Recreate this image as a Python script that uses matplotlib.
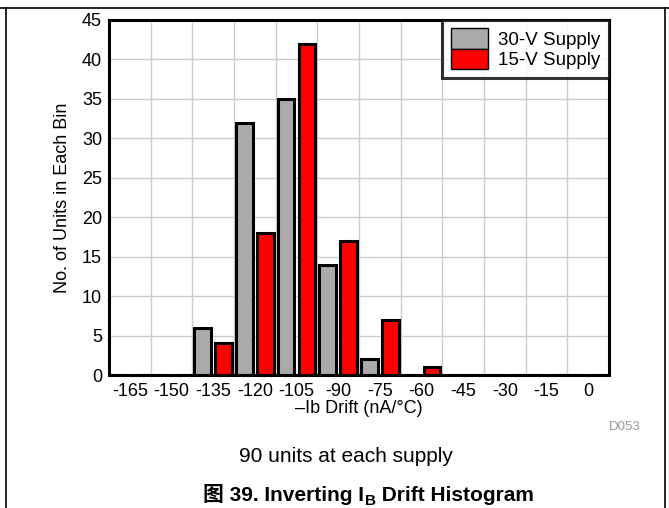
import matplotlib
matplotlib.use("Agg")
import matplotlib.pyplot as plt
import numpy as np
from matplotlib.lines import Line2D

plt.rcParams['font.family'] = ['Liberation Sans', 'Noto Sans CJK SC', 'DejaVu Sans']

categories = ['-165', '-150', '-135', '-120', '-105', '-90', '-75', '-60', '-45', '-30', '-15', '0']
supply_30v = [0, 0, 6, 32, 35, 14, 2, 0, 0, 0, 0, 0]
supply_15v = [0, 0, 4, 18, 42, 17, 7, 1, 0, 0, 0, 0]
series_names = ['30-V Supply', '15-V Supply']

W, H = 669, 508
fig = plt.figure(figsize=(W / 100, H / 100), dpi=100)
L, R, T, B = 109, 609, 20, 375
ax = fig.add_axes([L / W, 1 - B / H, (R - L) / W, (B - T) / H])

x = np.arange(len(categories))
w = 0.4
ax.bar(x - 0.25, supply_30v, width=w, color='#aaaaaa', edgecolor='black', linewidth=2.2,
       label=series_names[0], zorder=3)
ax.bar(x + 0.25, supply_15v, width=w, color='#ff0000', edgecolor='black', linewidth=2.2,
       label=series_names[1], zorder=3)

ax.set_xlim(-0.5, len(categories) - 0.5)
ax.set_ylim(0, 45)
ax.set_yticks(np.arange(0, 46, 5))
ax.set_xticks(x)
ax.set_xticklabels(categories)
ax.set_xticks(np.arange(-0.5, len(categories), 1), minor=True)
ax.grid(False)
ax.grid(True, which='minor', axis='x', color='#cccccc', linewidth=1, zorder=0)
ax.grid(True, which='major', axis='y', color='#cccccc', linewidth=1, zorder=0)
ax.tick_params(axis='both', which='both', length=0, labelsize=13)
ax.tick_params(axis='x', pad=6)
ax.tick_params(axis='y', pad=5)
for s in ax.spines.values():
    s.set_linewidth(2.2)
    s.set_zorder(5)

ax.set_ylabel('No. of Units in Each Bin', fontsize=13, labelpad=8)
ax.set_xlabel('\u2013Ib Drift (nA/\u00b0C)', fontsize=13, labelpad=0)

# legend with thin-edged patch handles
from matplotlib.patches import Patch
handles = [Patch(facecolor='#aaaaaa', edgecolor='black', linewidth=1.0),
           Patch(facecolor='#ff0000', edgecolor='black', linewidth=1.0)]
leg = ax.legend(handles, series_names, loc='upper right', bbox_to_anchor=(1.0, 1.0),
                fontsize=13.5, frameon=True, fancybox=False, borderaxespad=0,
                handlelength=2.0, handleheight=1.3, labelspacing=0.0,
                handletextpad=0.55, borderpad=0.45)
leg.get_frame().set_edgecolor('black')
leg.get_frame().set_linewidth(2.2)
leg.set_zorder(10)

fig.text(625 / W, 1 - 427 / H, 'D053', fontsize=9.5, color='#999999', ha='center', va='center')
fig.text(346 / W, 1 - 457 / H, '90 units at each supply', fontsize=15, ha='center', va='center')

title_font = dict(fontsize=15, fontweight='bold',
                  family=['Liberation Sans', 'Noto Sans CJK SC', 'DejaVu Sans'])
t1 = fig.text(203 / W, 1 - 505 / H, '图 39. Inverting I', ha='left', va='bottom', **title_font)
t2 = ax.annotate('B', xy=(1, 0), xycoords=t1, xytext=(0.5, -2.5), textcoords='offset points',
                 ha='left', va='bottom', annotation_clip=False, **dict(title_font, fontsize=11))
t3 = ax.annotate(' Drift Histogram', xy=(1, 0), xycoords=t2, xytext=(0, 2.5),
                 textcoords='offset points', ha='left', va='bottom', annotation_clip=False,
                 **title_font)

fig.add_artist(Line2D([0, 1], [1 - 7.5 / H, 1 - 7.5 / H], color='black', linewidth=1.2,
                      transform=fig.transFigure))
fig.add_artist(Line2D([6 / W, 6 / W], [0, 1 - 7.5 / H], color='black', linewidth=1.2,
                      transform=fig.transFigure))
fig.add_artist(Line2D([665 / W, 665 / W], [0, 1 - 7.5 / H], color='black', linewidth=1.2,
                      transform=fig.transFigure))

fig.savefig('out.png', dpi=100)
